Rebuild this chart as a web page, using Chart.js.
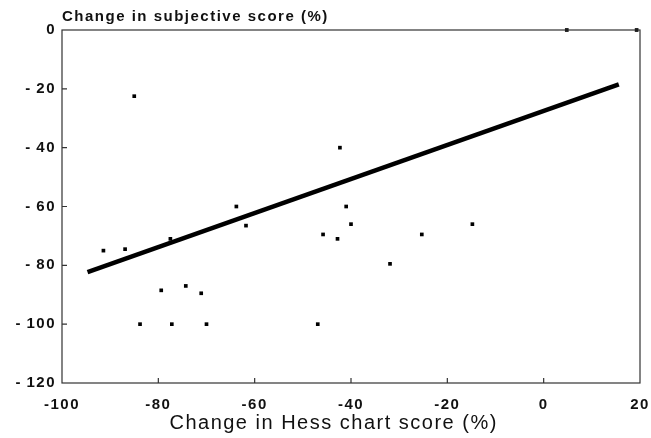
<!DOCTYPE html>
<html>
<head>
<meta charset="utf-8">
<script src="https://cdn.jsdelivr.net/npm/chart.js@4/dist/chart.umd.min.js"></script>
<style>
  body { margin: 0; background: #fff; }
  #wrap { width: 651px; height: 438px; }
</style>
</head>
<body>
<div id="wrap"><canvas id="myChart" width="651" height="438"></canvas></div>
<script>
// values
const hessChange = [-91.4, -86.9, -85.0, -77.5, -79.4, -74.3, -71.1, -83.8, -77.2, -70.0,
  -61.8, -63.8, -46.9, -45.8, -42.8, -40.0, -42.3, -41.0, -25.3, -31.9, -14.8, 4.8, 19.3];
const subjChange = [-75, -74.5, -22.5, -71, -88.5, -87, -89.5, -100, -100, -100,
  -66.5, -60, -100, -69.5, -71, -66, -40, -60, -69.5, -79.5, -66, 0, 0];
// regression line end points
const fitX = [-94.7, 15.6];
const fitY = [-82.3, -18.5];
const xTicks = [-100, -80, -60, -40, -20, 0, 20];
const yTicks = [0, -20, -40, -60, -80, -100, -120];
const yTitle = 'Change in subjective score (%)';
const xTitle = 'Change in Hess chart score (%)';

const INK = '#111';

const frame = {
  id: 'frame',
  beforeUpdate(chart) { chart.ctx.letterSpacing = '1.5px'; },
  beforeDraw(chart) { chart.ctx.letterSpacing = '1.5px'; },
  afterDraw(chart) {
    const ctx = chart.ctx;
    const a = chart.chartArea;
    const sx = chart.scales.x, sy = chart.scales.y;
    ctx.save();
    ctx.strokeStyle = '#333';
    ctx.lineWidth = 1.2;
    ctx.strokeRect(a.left, a.top, a.right - a.left, a.bottom - a.top);
    // inward tick marks
    ctx.beginPath();
    xTicks.slice(1, -1).forEach(v => {
      let p = sx.getPixelForValue(v);
      ctx.moveTo(p, a.bottom); ctx.lineTo(p, a.bottom - 5);
    });
    yTicks.slice(1, -1).forEach(v => {
      let p = sy.getPixelForValue(v);
      ctx.moveTo(a.left, p); ctx.lineTo(a.left + 5, p);
    });
    ctx.stroke();
    // titles
    ctx.fillStyle = INK;
    ctx.letterSpacing = '1.5px';
    ctx.textBaseline = 'middle';
    ctx.textAlign = 'left';
    ctx.font = 'bold 15px "Liberation Sans", Arial, sans-serif';
    ctx.fillText(yTitle, a.left, 17);
    ctx.textAlign = 'center';
    ctx.font = '20px "Liberation Sans", Arial, sans-serif';
    ctx.fillText(xTitle, a.left + (a.right - a.left) * 0.47, 423);
    ctx.restore();
  }
};

Chart.defaults.font.family = '"Liberation Sans", Arial, sans-serif';
Chart.defaults.color = INK;

const config = {
  type: 'scatter',
  data: {
    datasets: [
      {
        type: 'line',
        data: fitX.map((x, i) => ({x: x, y: fitY[i]})),
        borderColor: '#000',
        borderWidth: 4.5,
        pointRadius: 0,
        fill: false,
        clip: false,
      },
      {
        data: hessChange.map((x, i) => ({x: x, y: subjChange[i]})),
        backgroundColor: '#000',
        borderColor: '#000',
        pointStyle: 'rect',
        pointRadius: 2.6,
        borderWidth: 0,
        clip: false,
      }
    ]
  },
  options: {
    responsive: false,
    animation: false,
    layout: {padding: {top: 30, right: 0, left: 0, bottom: 0}},
    plugins: {legend: {display: false}, tooltip: {enabled: false}},
    scales: {
      x: {
        type: 'linear',
        min: -100, max: 20,
        afterBuildTicks: s => { s.ticks = xTicks.map(v => ({value: v})); },
        afterFit: s => { s.height = 55; s.paddingRight = 11; },
        grid: {display: false, drawTicks: false},
        border: {display: false},
        ticks: {padding: 13, font: {size: 15, weight: 'bold'}, maxRotation: 0, autoSkip: false},
      },
      y: {
        type: 'linear',
        min: -120, max: 0,
        afterBuildTicks: s => { s.ticks = yTicks.map(v => ({value: v})); },
        afterFit: s => { s.width = 62; },
        grid: {display: false, drawTicks: false},
        border: {display: false},
        ticks: {
          padding: 6,
          font: {size: 15, weight: 'bold'},
          autoSkip: false,
          callback: v => v < 0 ? '-\u2009' + Math.abs(v) : String(v),
        },
      }
    }
  },
  plugins: [frame]
};

const myChart = new Chart(document.getElementById('myChart'), config);
</script>
</body>
</html>
